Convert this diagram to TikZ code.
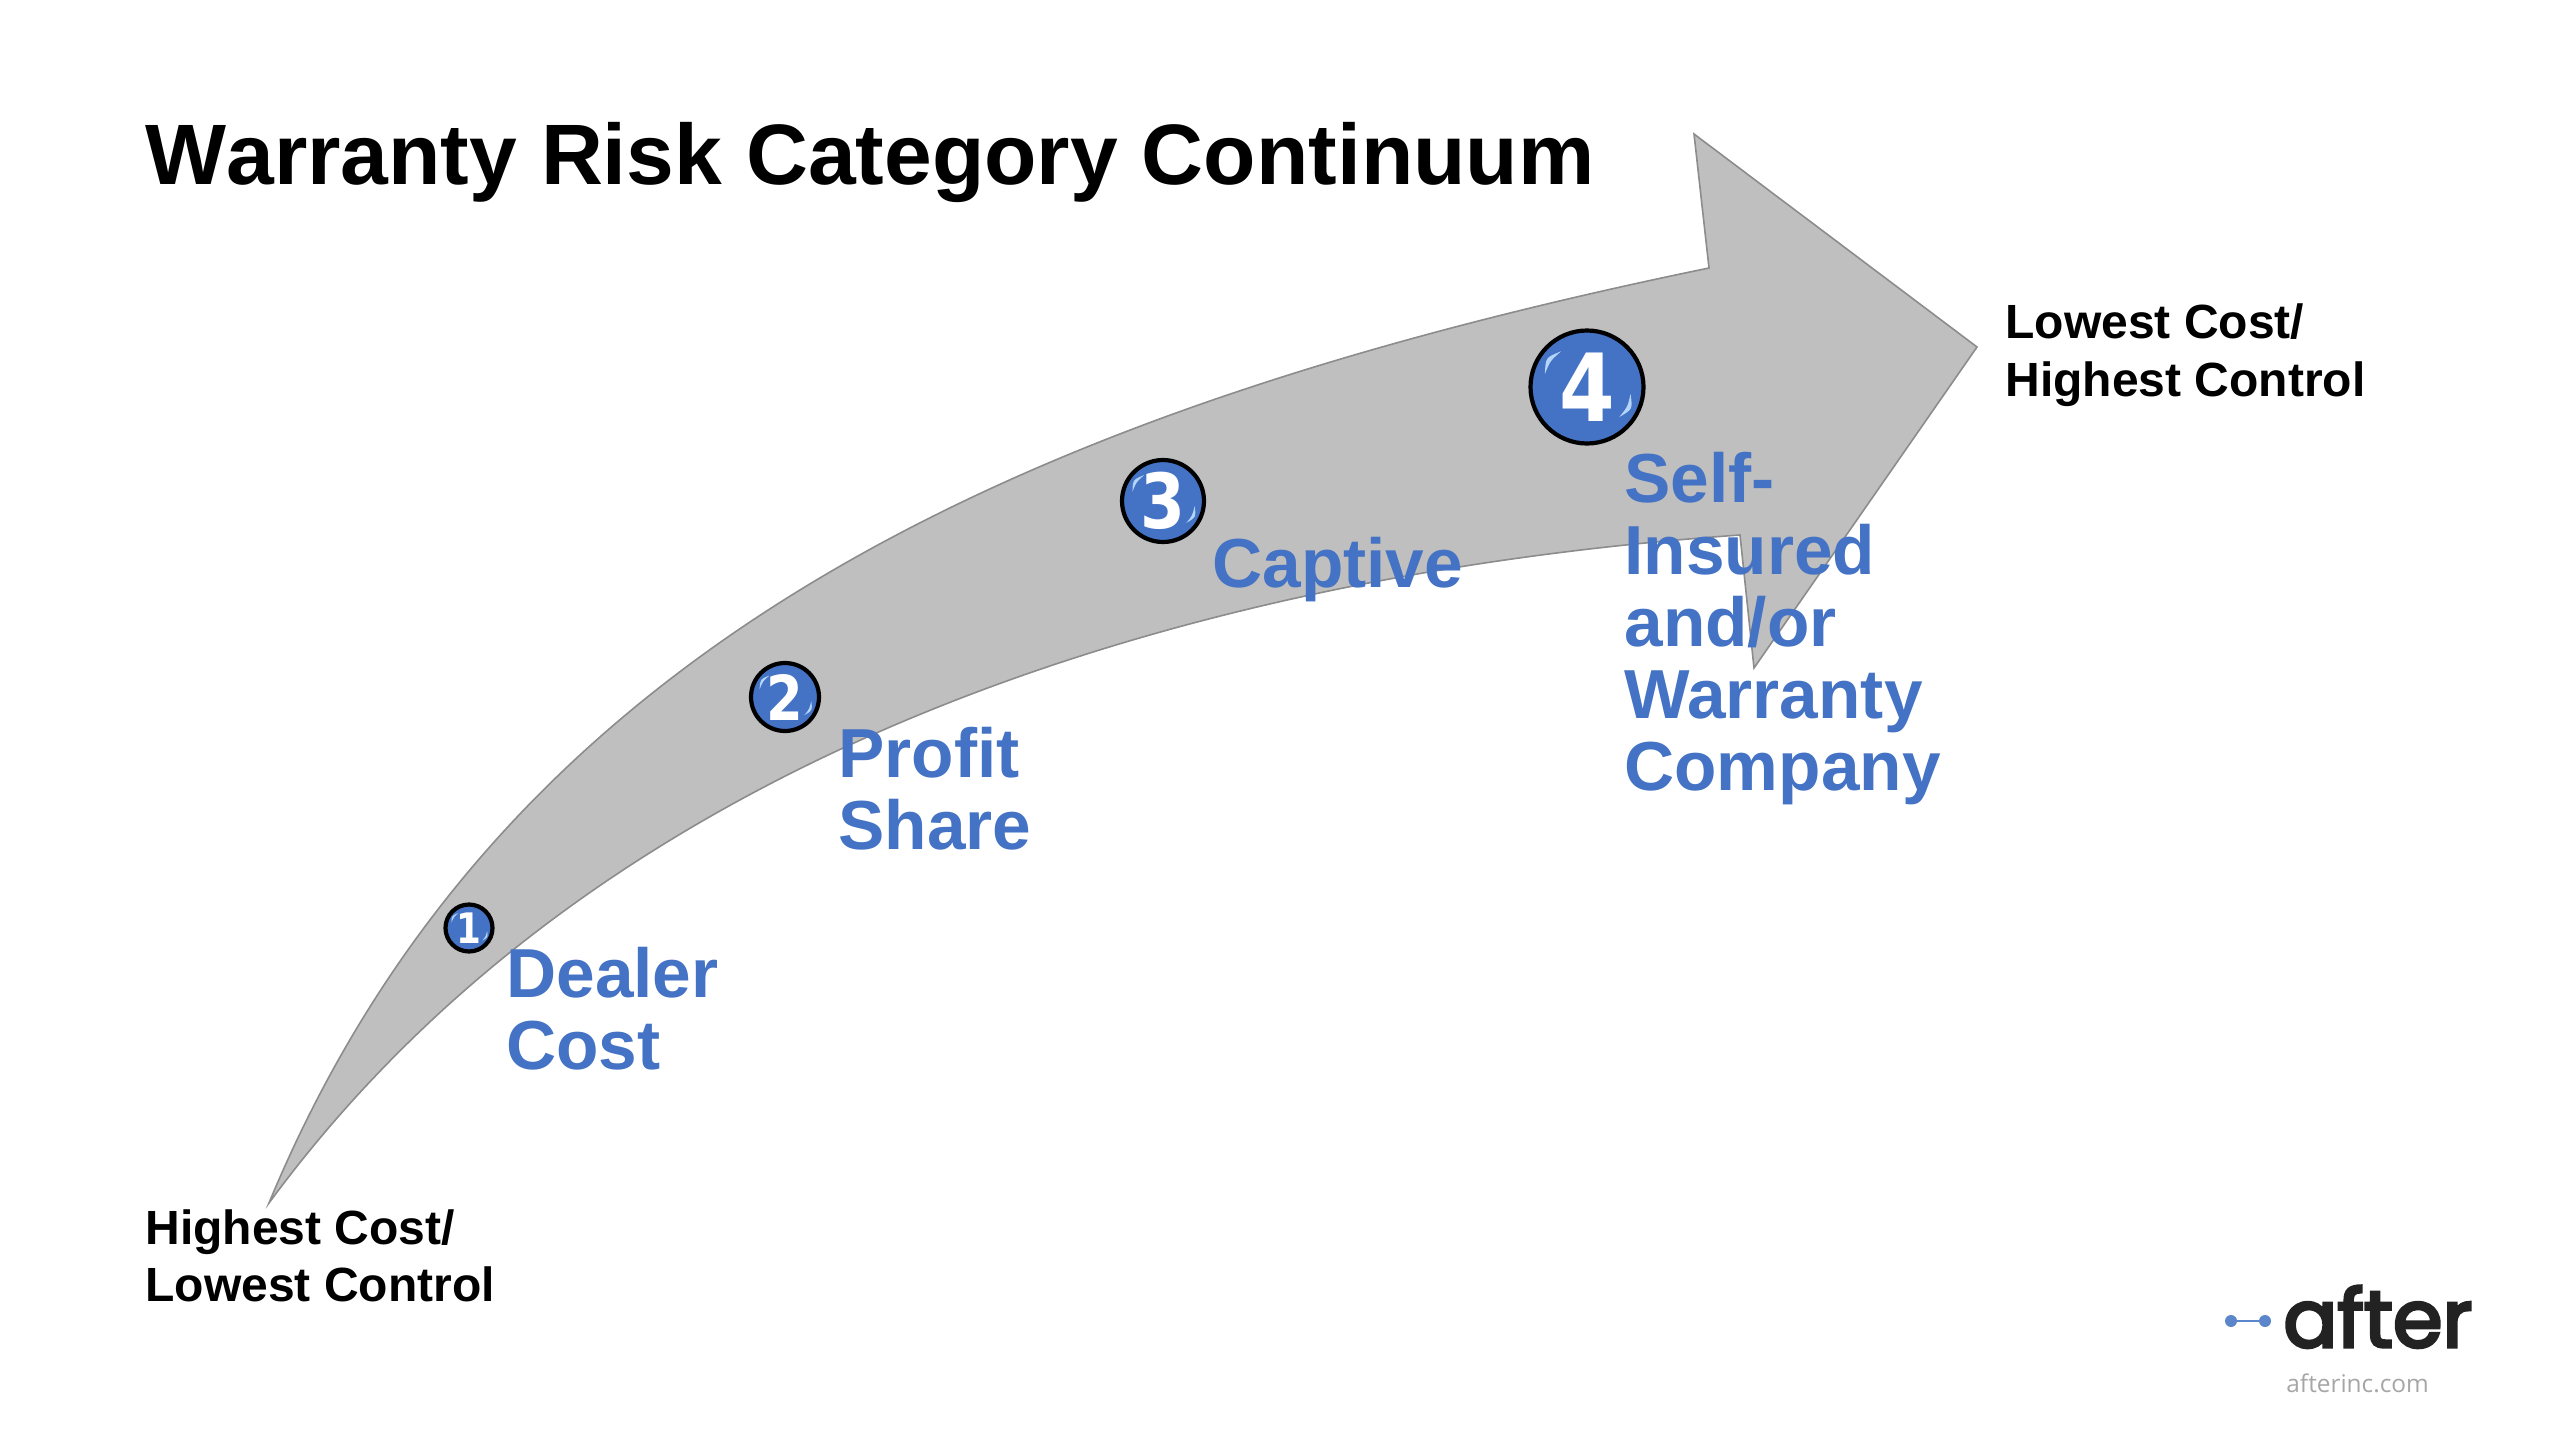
\documentclass[tikz,border=0pt]{standalone}
\usepackage{fontspec}
\setmainfont{Liberation Sans}
\newfontfamily\digitfont[FakeStretch=0.85]{DejaVu Sans}
\newfontfamily\logofont[FakeBold=4]{Poppins}
\newfontfamily\urlfont{Open Sans}
\newfontfamily\titlefont[Kerning=Off]{Liberation Sans}
\definecolor{blueA}{HTML}{4472C4}
\definecolor{blueL}{HTML}{5B86CC}
\definecolor{shaft}{HTML}{BFBFBF}
\definecolor{edge}{HTML}{8C8C8C}
\definecolor{glow}{HTML}{B4D6FA}
\definecolor{logoink}{HTML}{222222}
\tikzset{
  titletext/.style={anchor=base west,inner sep=0pt,font=\fontsize{42.9}{50}\titlefont\bfseries,text=black},
  endtext/.style={anchor=north west,inner sep=0pt,align=left,font=\fontsize{24}{28.8}\selectfont\bfseries,text=black},
  steptext/.style={anchor=north west,inner sep=0pt,align=left,font=\fontsize{34.7}{36}\selectfont\bfseries,text=blueA},
  badge/.style={circle,draw=black,fill=blueA,inner sep=0pt,text=white,line width=2.1pt},
  hl/.style={fill=glow,draw=none},
  logodot/.style={circle,fill=blueL,inner sep=0pt,minimum size=6pt}
}
\newcommand{\stepbadge}[6]{% name, x, y, radius px, font pt, digit
  \node[badge,minimum size=#4pt,font=\fontsize{#5}{#5}\selectfont\digitfont\bfseries] (#1) at (#2,#3) {#6};
  \fill[hl] ([shift={(197:#4*0.78)}]#1.center)
    .. controls ([shift={(215.5:#4*0.90)}]#1.center) .. ([shift={(234:#4*0.78)}]#1.center)
    .. controls ([shift={(215.5:#4*0.80)}]#1.center) .. cycle;
  \fill[hl] ([shift={(9:#4*0.78)}]#1.center)
    .. controls ([shift={(26:#4*0.90)}]#1.center) .. ([shift={(43:#4*0.78)}]#1.center)
    .. controls ([shift={(26:#4*0.80)}]#1.center) .. cycle;
}
\begin{document}
\begin{tikzpicture}[x=0.5pt,y=-0.5pt]
\useasboundingbox (0,0) rectangle (2560,1440);
% arrow
\draw[fill=shaft,draw=edge,line width=0.8pt,line join=miter]
  (269,1203)
  .. controls (500,645) and (1020,410) .. (1709,268)
  -- (1694,134) -- (1977,347) -- (1754,668) -- (1740,535)
  .. controls (1240,570) and (620,725) .. (269,1203) -- cycle;
\node[titletext] (title) at (145,184) {Warranty Risk Category Continuum};
\stepbadge{nA}{469}{928}{23.5}{21}{1}
\stepbadge{nB}{785}{697}{34}{31}{2}
\stepbadge{nC}{1163}{501}{41}{38}{3}
\stepbadge{nD}{1587}{387}{56.5}{47}{4}
\node[steptext] (dealer) at (506,947) {Dealer\\Cost};
\node[steptext] (profit) at (838,727) {Profit\\Share};
\node[steptext] (captive) at (1212,537) {Captive};
\node[steptext] (self) at (1624,452) {Self-\\Insured\\and/or\\Warranty\\Company};
\node[endtext] (low) at (2005,303.5) {Lowest Cost/\\Highest Control};
\node[endtext] (high) at (145,1209) {Highest Cost/\\Lowest Control};
\node[logodot] (la) at (2231,1321) {};
\node[logodot] (lb) at (2265,1321) {};
\draw[blueL,line width=1.4pt] (la) -- (lb);
\node[anchor=base west,inner sep=0pt,font=\fontsize{40}{42}\logofont,text=logoink] (after) at (2283,1347) {after};
\node[anchor=base west,inner sep=0pt,font=\fontsize{12.2}{15}\urlfont,text=black!35] (url) at (2286,1392) {afterinc.com};
\end{tikzpicture}
\end{document}
